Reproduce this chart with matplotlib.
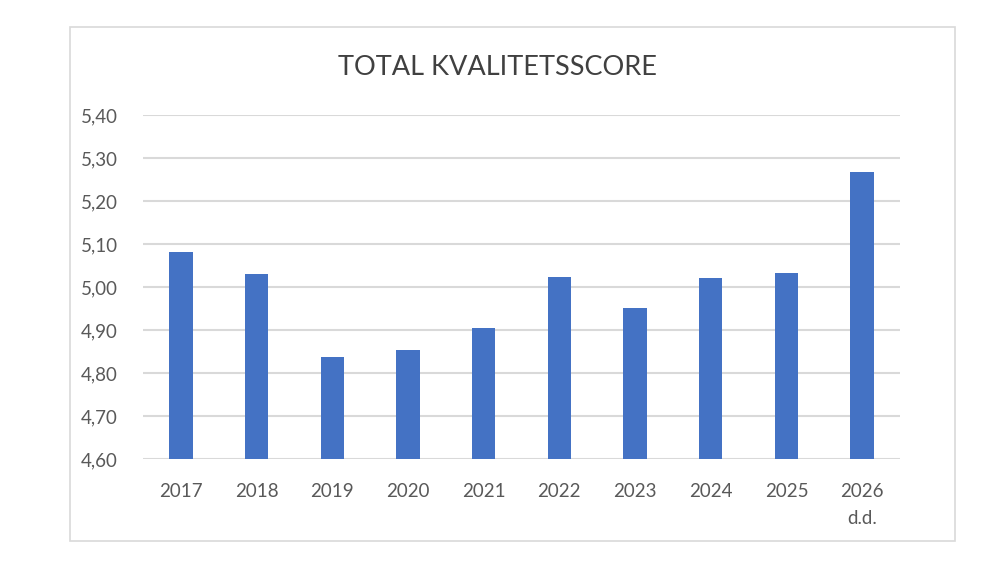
import matplotlib
matplotlib.use("Agg")
import matplotlib.pyplot as plt
from matplotlib.patches import Rectangle
from matplotlib.ticker import FuncFormatter

years = ["2017", "2018", "2019", "2020", "2021", "2022", "2023", "2024", "2025", "2026\nd.d."]
scores = [5.082, 5.030, 4.837, 4.853, 4.905, 5.023, 4.952, 5.021, 5.032, 5.267]

plt.rcParams["font.family"] = ["Lato", "DejaVu Sans"]

fig = plt.figure(figsize=(10, 5.76), dpi=100)
fig.patches.append(Rectangle((0.070, 0.061), 0.885, 0.892, transform=fig.transFigure,
                             fill=False, edgecolor="#d9d9d9", linewidth=1.2))

ax = fig.add_axes([0.143, 0.2031, 0.757, 0.5972])
x = range(len(years))
ax.bar(x, [s - 4.6 for s in scores], bottom=4.6, width=0.31, color="#4472C4", zorder=3)

ax.set_xlim(-0.5, len(years) - 0.5)
ax.set_ylim(4.6, 5.4)
ax.set_yticks([4.6 + 0.1 * i for i in range(9)])
ax.yaxis.set_major_formatter(FuncFormatter(lambda v, p: f"{v:.2f}".replace(".", ",")))
ax.set_xticks(list(x))
ax.set_xticklabels(years, linespacing=1.75, va="top")
ax.grid(axis="y", color="#d9d9d9", linewidth=1.5, zorder=0)
ax.set_axisbelow(True)
for sp in ax.spines.values():
    sp.set_visible(False)
ax.tick_params(length=0, labelsize=13.5, colors="#595959")
ax.tick_params(axis="x", pad=17)
ax.tick_params(axis="y", pad=18)

fig.text(0.498, 0.883, "TOTAL KVALITETSSCORE", ha="center", va="center",
         fontsize=19.5, color="#404040")

fig.savefig("out.png", dpi=100)
